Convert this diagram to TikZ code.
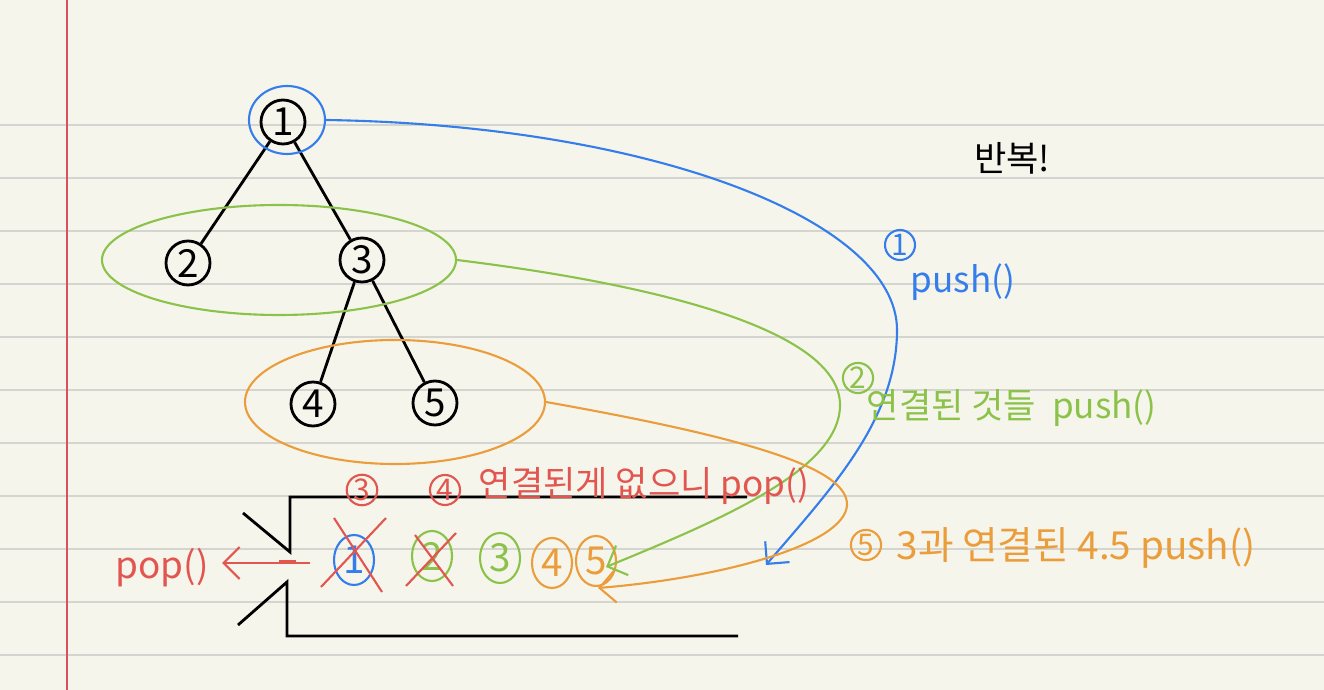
\documentclass[tikz,border=0pt]{standalone}
\usepackage{fontspec}
\setmainfont{Noto Sans CJK KR}
\usetikzlibrary{arrows.meta,positioning,shapes.geometric}
\definecolor{PaperColor}{RGB}{246,245,236}
\definecolor{RuleGray}{RGB}{212,212,208}
\definecolor{MarginRed}{RGB}{214,82,92}
\definecolor{PenBlue}{RGB}{52,125,235}
\definecolor{PenGreen}{RGB}{139,194,74}
\definecolor{PenOrange}{RGB}{234,157,58}
\definecolor{PenRed}{RGB}{226,86,80}

\begin{document}
\begin{tikzpicture}[x=0.1mm, y=-0.1mm,
    tnode/.style={circle, draw, thick, minimum size=4.4mm, inner sep=0pt, font=\fontsize{11}{12}\selectfont},
    snode/.style={ellipse, draw, semithick, minimum width=4mm, minimum height=5mm, inner sep=0pt, font=\fontsize{11}{12}\selectfont},
    circnum/.style={circle, draw, semithick, minimum size=3mm, inner sep=0.3pt, font=\fontsize{8.5}{9}\selectfont},
    note/.style={anchor=west, inner sep=0pt, font=\fontsize{10}{12}\selectfont},
    pen/.style={semithick, -{Straight Barb[length=1.6mm, width=3.2mm]}}]
  % paper
  \fill[PaperColor] (0,0) rectangle (1324,690);
  \useasboundingbox (0,0) rectangle (1324,690);
  \foreach \y in {125,178,...,655}
    \draw[RuleGray, line width=0.6pt] (0,\y) -- (1324,\y);
  \draw[MarginRed, line width=0.8pt] (67,0) -- (67,690);
  % tree
  \node[tnode] (n1) at (283,122) {1};
  \node[tnode] (n2) at (188,263) {2};
  \node[tnode] (n3) at (362,260) {3};
  \node[tnode] (n4) at (313,404) {4};
  \node[tnode] (n5) at (435,403) {5};
  \draw[thick] (n1) -- (n2);
  \draw[thick] (n1) -- (n3);
  \draw[thick] (n3) -- (n4);
  \draw[thick] (n3) -- (n5);
  % groups
  \node[ellipse, draw=PenBlue, semithick, minimum width=7.6mm, minimum height=6.8mm] (g1) at (287,120) {};
  \node[ellipse, draw=PenGreen, semithick, minimum width=35.4mm, minimum height=11mm] (g2) at (279,260) {};
  \node[ellipse, draw=PenOrange, semithick, minimum width=30mm, minimum height=12.4mm] (g3) at (395,402) {};
  % stack
  \draw[thick] (747,497) -- (290,497) -- (290,552) -- (243,513);
  \draw[thick] (738,636) -- (287,636) -- (287,582) -- (238,625);
  \node[snode, PenBlue] (s1) at (354,560) {1};
  \node[snode, PenGreen] (s2) at (432,556) {2};
  \node[snode, PenGreen] (s3) at (500,558) {3};
  \node[snode, PenOrange] (s4) at (552,563) {4};
  \node[snode, PenOrange] (s5) at (596,561) {5};
  \draw[PenRed, semithick] (334,518) -- (382,592);
  \draw[PenRed, semithick] (386,518) -- (321,587);
  \draw[PenRed, semithick] (415,535) -- (453,586);
  \draw[PenRed, semithick] (456,533) -- (406,586);
  % pop
  \node[PenRed, inner sep=0pt, font=\fontsize{10.5}{12}\selectfont] (pop) at (162,568) {pop()};
  \coordinate (popin) at (310,563);
  \draw[PenRed, pen] (popin) -- ([xshift=1.3mm]pop.east |- popin);
  \draw[PenRed, semithick] (279,561) -- (296,561);
  % push paths
  \coordinate (s5in) at (606,567);
  \draw[PenBlue, pen] (g1.east) .. controls (650,125) and (897,220) .. (897,330)
    .. controls (897,420) and (830,490) .. (766,565);
  \draw[PenGreen, pen] (g2.east) .. controls (700,290) and (840,340) .. (840,405)
    .. controls (840,470) and (720,520) .. (s5in);
  \draw[PenOrange, pen] (g3.east) .. controls (760,440) and (848,470) .. (847,505)
    .. controls (845,545) and (720,578) .. (598,588);
  % notes
  \node[circnum, PenBlue] (c1) at (900,245) {1};
  \node[note, PenBlue] (t1) at (910,282) {push()};
  \node[circnum, PenGreen] (c2) at (858,378) {2};
  \node[note, PenGreen] (t2) at (866,408) {연결된 것들\ \ push()};
  \node[circnum, PenRed] (c3) at (362,490) {3};
  \node[circnum, PenRed] (c4) at (445,490) {4};
  \node[note, PenRed] (t3) at (478,486) {연결된게 없으니 pop()};
  \node[circnum, PenOrange] (c5) at (866,545) {5};
  \node[note, PenOrange, font=\fontsize{11}{12}\selectfont] (t5) at (896,548) {3과 연결된 4.5 push()};
  \node[inner sep=0pt, font=\fontsize{10}{12}\selectfont] (rep) at (1012,158) {반복!};
\end{tikzpicture}
\end{document}
